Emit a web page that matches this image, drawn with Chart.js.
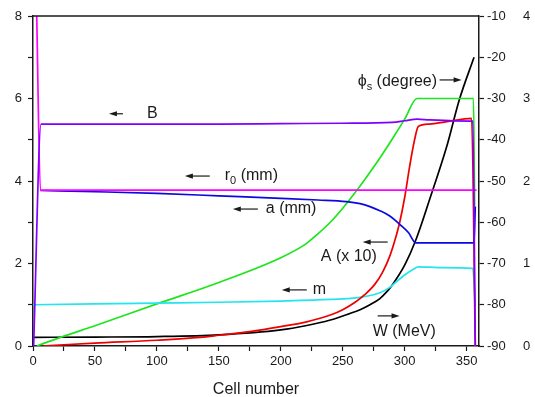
<!DOCTYPE html>
<html>
<head>
<meta charset="utf-8">
<script src="https://cdn.jsdelivr.net/npm/chart.js@4.4.0/dist/chart.umd.min.js"></script>
<style>
body { margin: 0; background: #fff; }
</style>
</head>
<body>
<canvas id="myChart" width="535" height="397"></canvas>
<script>
// values: cell number + value, one pair per curve

// B (left axis)
var bCells = [0.5, 6.5, 50, 100, 150, 200, 250, 290, 300, 310, 320, 340, 355, 357];
var bVals  = [0, 5.38, 5.38, 5.38, 5.38, 5.39, 5.40, 5.42, 5.46, 5.50, 5.48, 5.46, 5.45, 0];

// r0 (mm) (left axis)
var r0Cells = [3, 6, 100, 200, 300, 358];
var r0Vals  = [8, 3.78, 3.78, 3.78, 3.78, 3.78];

// a (mm) (left axis)
var aCells = [6, 50, 100, 150, 200, 230, 253, 264, 272, 280, 288, 296, 303, 309, 330, 356, 357];
var aVals  = [3.77, 3.74, 3.70, 3.64, 3.58, 3.54, 3.50, 3.45, 3.38, 3.28, 3.15, 2.95, 2.75, 2.50, 2.50, 2.50, 3.38];

// A (x 10) (left axis)
var accCells = [8, 25, 50, 100, 135, 150, 175, 200, 220, 240, 250, 260, 268, 276, 282, 288, 292, 296, 300, 304, 308, 311, 320, 334, 354, 357];
var accVals  = [0, 0.03, 0.07, 0.14, 0.21, 0.26, 0.35, 0.47, 0.58, 0.75, 0.88, 1.06, 1.25, 1.5, 1.78, 2.18, 2.55, 3.0, 3.6, 4.35, 5.0, 5.32, 5.38, 5.44, 5.52, 0];

// m (left axis)
var mCells = [0, 50, 100, 150, 200, 240, 264, 280, 288, 293, 300, 307, 311, 330, 355, 357];
var mVals  = [1.0, 1.02, 1.04, 1.06, 1.09, 1.13, 1.18, 1.29, 1.42, 1.55, 1.72, 1.86, 1.92, 1.90, 1.88, 0.97];

// phi_s (degree) (inner right axis)
var phiCells = [3, 25, 50, 100, 150, 200, 220, 230, 240, 250, 260, 270, 280, 290, 300, 310, 330, 355.5, 356.5];
var phiVals  = [-90, -87.6, -85.1, -79.8, -74.6, -68.6, -65.3, -62.8, -60, -56.6, -52.8, -48.7, -44.4, -39.8, -35, -30, -30, -30, -56];

// W (MeV) (outer right axis)
var wCells = [0, 50, 100, 150, 200, 220, 240, 255, 264, 272, 280, 286, 290, 300, 309, 320, 334, 344, 356];
var wVals  = [0.105, 0.108, 0.114, 0.135, 0.195, 0.245, 0.315, 0.39, 0.44, 0.5, 0.575, 0.665, 0.74, 0.98, 1.285, 1.77, 2.42, 2.98, 3.5];

// ticks
var xTicks = [0, 25, 50, 75, 100, 125, 150, 175, 200, 225, 250, 275, 300, 325, 350];
var xLabels = [0, 50, 100, 150, 200, 250, 300, 350];
var leftTicks = [0, 1, 2, 3, 4, 5, 6, 7, 8];
var leftLabels = [0, 2, 4, 6, 8];
var phiTicks = [-90, -80, -70, -60, -50, -40, -30, -20, -10];
var wTicks = [0, 1, 2, 3, 4];

function pts(xs, ys) {
    return xs.map(function(x, i) { return {x: x, y: ys[i]}; });
}

function line(label, xs, ys, color, axis) {
    return {
        label: label,
        data: pts(xs, ys),
        borderColor: color,
        borderWidth: 1.7,
        pointRadius: 0,
        fill: false,
        cubicInterpolationMode: 'monotone',
        yAxisID: axis
    };
}

var FONT = "'Liberation Sans', Arial, sans-serif";
var INK = '#1a1a1a';
var NOTE = '16px ' + FONT;

function arrow(ctx, x1, y1, x2, y2) {
    var dir = x2 > x1 ? 1 : -1;
    ctx.beginPath();
    ctx.moveTo(x1, y1);
    ctx.lineTo(x2 - dir * 4, y2);
    ctx.stroke();
    ctx.beginPath();
    ctx.moveTo(x2, y2);
    ctx.lineTo(x2 - dir * 8, y2 - 2.6);
    ctx.lineTo(x2 - dir * 8, y2 + 2.6);
    ctx.closePath();
    ctx.fill();
}

// text with a subscript part
function subText(ctx, x, y, main, sub, rest) {
    ctx.font = NOTE;
    ctx.fillText(main, x, y);
    var w = ctx.measureText(main).width;
    ctx.font = '11px ' + FONT;
    ctx.fillText(sub, x + w, y + 5);
    var w2 = ctx.measureText(sub).width;
    ctx.font = NOTE;
    ctx.fillText(rest, x + w + w2, y);
}

var notes = {
    id: 'notes',
    afterDatasetsDraw: function(chart) {
        var ctx = chart.ctx, a = chart.chartArea;
        var sx = chart.scales.x, sy = chart.scales.y;
        function X(v) { return sx.getPixelForValue(v); }
        function Y(v) { return sy.getPixelForValue(v); }
        ctx.save();
        // top frame line
        ctx.strokeStyle = INK;
        ctx.lineWidth = 1.5;
        ctx.beginPath();
        ctx.moveTo(a.left, a.top);
        ctx.lineTo(a.right, a.top);
        ctx.stroke();

        ctx.fillStyle = INK;
        ctx.strokeStyle = INK;
        ctx.lineWidth = 1.2;
        ctx.textBaseline = 'middle';
        ctx.textAlign = 'left';
        ctx.font = NOTE;

        arrow(ctx, X(72.6), Y(5.63), X(61.3), Y(5.63));
        ctx.fillText('B', X(92), Y(5.64));

        arrow(ctx, X(142.7), Y(4.12), X(122.6), Y(4.12));
        subText(ctx, X(154.8), Y(4.12), 'r', '0', ' (mm)');

        arrow(ctx, X(181.5), Y(3.32), X(161.3), Y(3.32));
        ctx.fillText('a (mm)', X(187.9), Y(3.32));

        arrow(ctx, X(286.3), Y(2.52), X(266.1), Y(2.52));
        ctx.fillText('A (x 10)', X(232.3), Y(2.16));

        arrow(ctx, X(221), Y(1.36), X(200.8), Y(1.36));
        ctx.fillText('m', X(225.8), Y(1.36));

        arrow(ctx, X(278.2), Y(0.73), X(295.9), Y(0.73));
        ctx.fillText('W (MeV)', X(274.2), Y(0.34));

        subText(ctx, X(262.1), Y(6.4), '\u03d5', 's', ' (degree)');
        arrow(ctx, X(328.2), Y(6.45), X(346), Y(6.45));
        ctx.restore();
    }
};

function fixTicks(list) {
    return function(scale) {
        scale.ticks = list.map(function(v) { return {value: v}; });
    };
}

function showOnly(list) {
    return function(v) { return list.indexOf(v) >= 0 ? String(v) : ''; };
}

var ctx = document.getElementById('myChart');
var myChart = new Chart(ctx, {
    type: 'line',
    data: {
        datasets: [
            line('B', bCells, bVals, '#7f00ff', 'y'),
            line('r0 (mm)', r0Cells, r0Vals, '#ff00ff', 'y'),
            line('a (mm)', aCells, aVals, '#0a0ae0', 'y'),
            line('A (x 10)', accCells, accVals, '#ee0000', 'y'),
            line('m', mCells, mVals, '#22e5f0', 'y'),
            line('phi_s (degree)', phiCells, phiVals, '#1de51d', 'y1'),
            line('W (MeV)', wCells, wVals, '#000000', 'y2')
        ]
    },
    plugins: [notes],
    options: {
        responsive: false,
        animation: false,
        devicePixelRatio: 1,
        layout: { padding: { top: 16, left: 0, right: 0, bottom: 0 } },
        plugins: { legend: { display: false }, tooltip: { enabled: false } },
        scales: {
            x: {
                type: 'linear',
                min: 0,
                max: 360,
                border: { color: INK, width: 1.5 },
                grid: { drawOnChartArea: false, color: INK, tickLength: 5, tickWidth: 1.2 },
                afterBuildTicks: fixTicks(xTicks),
                ticks: {
                    autoSkip: false,
                    maxRotation: 0,
                    padding: 3,
                    color: INK,
                    font: { family: FONT, size: 13 },
                    callback: showOnly(xLabels)
                },
                title: {
                    display: true,
                    text: 'Cell number',
                    color: INK,
                    font: { family: FONT, size: 16 },
                    padding: { top: 4, bottom: -2 }
                },
                afterFit: function(s) { s.height = 51; }
            },
            y: {
                position: 'left',
                min: 0,
                max: 8,
                border: { color: INK, width: 1.5 },
                grid: { drawOnChartArea: false, color: INK, tickLength: 5, tickWidth: 1.2 },
                afterBuildTicks: fixTicks(leftTicks),
                ticks: {
                    autoSkip: false,
                    padding: 6,
                    color: INK,
                    font: { family: FONT, size: 13 },
                    callback: showOnly(leftLabels)
                },
                afterFit: function(s) { s.width = 33; }
            },
            y1: {
                position: 'right',
                min: -90,
                max: -10,
                border: { color: INK, width: 1.5 },
                grid: { drawOnChartArea: false, color: INK, tickLength: 5, tickWidth: 1.2 },
                afterBuildTicks: fixTicks(phiTicks),
                ticks: {
                    autoSkip: false,
                    padding: 3,
                    color: INK,
                    font: { family: FONT, size: 13 }
                },
                afterFit: function(s) { s.width = 36; }
            },
            y2: {
                position: 'right',
                min: 0,
                max: 4,
                border: { display: false },
                grid: { display: false, drawTicks: false },
                afterBuildTicks: fixTicks(wTicks),
                ticks: {
                    autoSkip: false,
                    padding: 8,
                    color: INK,
                    font: { family: FONT, size: 13 }
                },
                afterFit: function(s) { s.width = 20; }
            }
        }
    }
});
</script>
</body>
</html>
